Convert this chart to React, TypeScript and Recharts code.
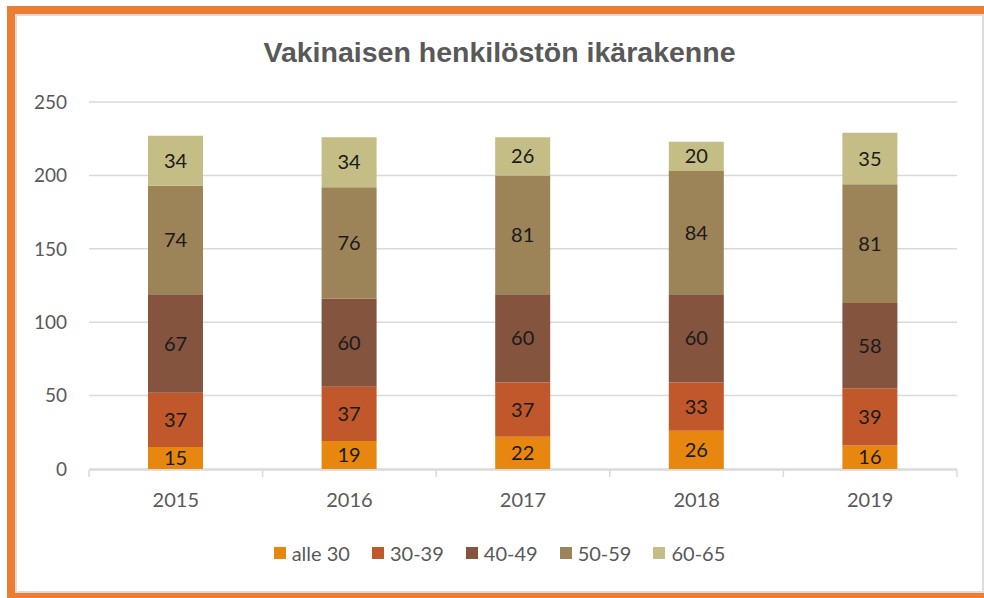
import React from "react";
import { BarChart, Bar, XAxis, YAxis, CartesianGrid, Legend, LabelList } from "recharts";

const years = ["2015", "2016", "2017", "2018", "2019"];
const alle30 = [15, 19, 22, 26, 16];
const s3039 = [37, 37, 37, 33, 39];
const s4049 = [67, 60, 60, 60, 58];
const s5059 = [74, 76, 81, 84, 81];
const s6065 = [34, 34, 26, 20, 35];
const yTicks = [0, 50, 100, 150, 200, 250];
const edgeTicks = [0, 1, 2, 3, 4, 5];

const seriesNames = ["alle 30", "30-39", "40-49", "50-59", "60-65"];
const seriesColors = ["#E8870F", "#C0582C", "#85543F", "#9C8358", "#C4BD86"];

const data = years.map((y, i) => ({
  year: y,
  idx: i + 0.5,
  "alle 30": alle30[i],
  "30-39": s3039[i],
  "40-49": s4049[i],
  "50-59": s5059[i],
  "60-65": s6065[i],
}));

const FONT = "Lato, 'Noto Sans', sans-serif";

function LegendContent() {
  return (
    <div style={{ display: "flex", justifyContent: "center", alignItems: "center", fontFamily: FONT, fontSize: 20, color: "#595959" }}>
      {seriesNames.map((name, i) => (
        <div key={name} style={{ display: "flex", alignItems: "center", marginRight: i < seriesNames.length - 1 ? 22 : 0 }}>
          <span style={{ display: "inline-block", width: 12, height: 12, background: seriesColors[i], marginRight: 6 }} />
          <span>{name}</span>
        </div>
      ))}
    </div>
  );
}

export default function App() {
  return (
    <div style={{ position: "absolute", left: 0, top: 0, width: 984, height: 598, overflow: "hidden", background: "#fff" }}>
      <div style={{ position: "absolute", left: 7, top: 6, width: 1100, height: 700, background: "#ED7D31" }} />
      <div
        style={{
          position: "absolute",
          left: 15,
          top: 14,
          width: 969,
          height: 579,
          boxSizing: "border-box",
          border: "2px solid #DCDCDC",
          background: "#fff",
        }}
      />
      <div
        style={{
          position: "absolute",
          left: 15,
          width: 969,
          top: 36,
          textAlign: "center",
          fontFamily: "'Liberation Sans', Arial, sans-serif",
          fontWeight: "bold",
          fontSize: 28.5,
          color: "#595959",
          whiteSpace: "nowrap",
        }}
      >
        Vakinaisen henkilöstön ikärakenne
      </div>
      <div style={{ position: "absolute", left: 0, top: 0 }}>
        <BarChart
          width={984}
          height={598}
          data={data}
          margin={{ top: 102, right: 27, left: 29, bottom: 89 }}
          style={{ fontFamily: FONT }}
        >
          <CartesianGrid vertical={false} stroke="#D9D9D9" strokeWidth={1.5} />
          <XAxis
            xAxisId="edges"
            type="number"
            dataKey="idx"
            domain={[0, 5]}
            ticks={edgeTicks}
            height={39}
            tickFormatter={() => ""}
            stroke="#D9D9D9"
            strokeWidth={1.5}
            tickSize={7}
            allowDataOverflow
          />
          <XAxis
            dataKey="year"
            height={1}
            axisLine={false}
            tickLine={false}
            tickSize={0}
            tickMargin={24}
            tick={{ fill: "#595959", fontSize: 20, fontFamily: FONT }}
          />
          <YAxis
            width={60}
            domain={[0, 250]}
            ticks={yTicks}
            axisLine={false}
            tickLine={false}
            tickSize={0}
            tickMargin={22}
            tick={{ fill: "#595959", fontSize: 19, fontFamily: FONT }}
          />
          <Legend
            layout="horizontal"
            verticalAlign="middle"
            align="center"
            wrapperStyle={{ top: 541, left: 15, width: 969 }}
            content={() => <LegendContent />}
          />
          {seriesNames.map((name, i) => (
            <Bar
              key={name}
              dataKey={name}
              stackId="a"
              fill={seriesColors[i]}
              barSize={55}
              isAnimationActive={false}
            >
              <LabelList dataKey={name} position="center" fill="#1A1A1A" fontSize={20} fontFamily={FONT} />
            </Bar>
          ))}
        </BarChart>
      </div>
    </div>
  );
}
